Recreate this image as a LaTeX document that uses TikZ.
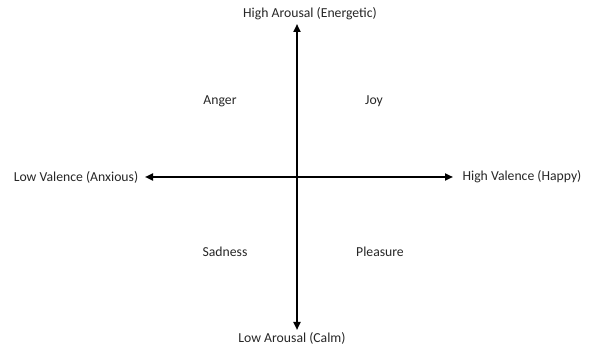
\documentclass[tikz,border=0pt]{standalone}
\usepackage{fontspec}
\setmainfont{Carlito}
\usetikzlibrary{arrows.meta}
\begin{document}
\begin{tikzpicture}[x=1pt,y=1pt,
  lbl/.style={font=\fontsize{13.7}{16}\selectfont, text=black!85, inner sep=0pt},
  axis/.style={line width=2pt, {Triangle[length=8pt,width=7pt]}-{Triangle[length=8pt,width=7pt]}}]
\useasboundingbox (0,0) rectangle (592,348);
\node[lbl] (ha) at (310,334) {High Arousal (Energetic)};
\node[lbl] (la) at (292,10) {Low Arousal (Calm)};
\node[lbl] (lv) at (76,171) {Low Valence (Anxious)};
\node[lbl] (hv) at (522,171) {High Valence (Happy)};
\node[lbl] (anger) at (220,247) {Anger};
\node[lbl] (joy) at (374,247) {Joy};
\node[lbl] (sad) at (225,96) {Sadness};
\node[lbl] (pleas) at (380,96) {Pleasure};
\coordinate (top) at (297,324);
\coordinate (bot) at (297,18);
\coordinate (left) at (145,171);
\coordinate (right) at (453,171);
\draw[axis] (bot) -- (top);
\draw[axis] (left) -- (right);
\end{tikzpicture}
\end{document}
